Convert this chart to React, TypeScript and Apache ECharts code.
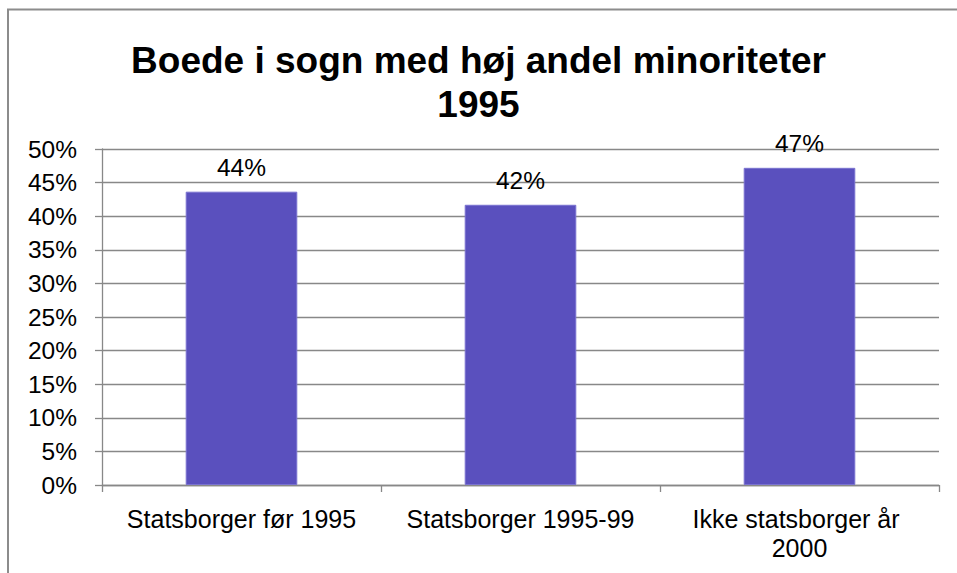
import React, { useEffect, useRef } from "react";
import * as echarts from "echarts";

const titleLines = ["Boede i sogn med høj andel minoriteter", "1995"];
const categories = ["Statsborger før 1995", "Statsborger 1995-99", "Ikke statsborger år 2000"];
const values = [43.65, 41.7, 47.2];
const yTicks = { min: 0, max: 50, interval: 5 };

export default function App() {
  const ref = useRef<HTMLDivElement>(null);
  useEffect(() => {
    const chart = echarts.init(ref.current!, null, { renderer: "svg" });
    const font = "Arial, 'Liberation Sans', sans-serif";
    chart.setOption({
      animation: false,
      backgroundColor: "#ffffff",
      title: {
        text: titleLines.join("\n"),
        left: "center",
        top: 33,
        textStyle: {
          fontFamily: font,
          fontWeight: "bold",
          fontSize: 37,
          lineHeight: 44,
          color: "#000",
        },
      },
      graphic: [
        {
          type: "rect",
          shape: { x: 8, y: 9.5, width: 980, height: 600 },
          style: { fill: "none", stroke: "#8c8c8c", lineWidth: 2 },
          silent: true,
          z: 100,
        },
      ],
      grid: { left: 102, right: 18, top: 149, bottom: 88 },
      xAxis: {
        type: "category",
        data: categories,
        axisLine: { lineStyle: { color: "#888", width: 1.3 } },
        axisTick: { show: true, length: 7, lineStyle: { color: "#888", width: 1.3 } },
        axisLabel: {
          fontFamily: font,
          fontSize: 25,
          color: "#000",
          margin: 19,
          lineHeight: 29,
          width: 240,
          overflow: "break",
          interval: 0,
        },
      },
      yAxis: {
        type: "value",
        min: yTicks.min,
        max: yTicks.max,
        interval: yTicks.interval,
        axisLine: { show: true, lineStyle: { color: "#888", width: 1.3 } },
        axisTick: { show: true, length: 7, lineStyle: { color: "#888", width: 1.3 } },
        splitLine: { lineStyle: { color: "#888", width: 1.3 } },
        axisLabel: {
          fontFamily: font,
          fontSize: 24.5,
          color: "#000",
          margin: 25,
          formatter: (v: number) => `${v}%`,
        },
      },
      series: [
        {
          type: "bar",
          data: values,
          barWidth: "40%",
          itemStyle: { color: "#5a50be", borderColor: "#7a72d0", borderWidth: 1 },
          label: {
            show: true,
            position: "top",
            distance: 12,
            fontFamily: font,
            fontSize: 24.5,
            color: "#000",
            formatter: (p: any) => `${Math.round(p.value)}%`,
          },
        },
      ],
    });
    return () => chart.dispose();
  }, []);
  return <div ref={ref} style={{ width: 957, height: 573, position: "absolute", left: 0, top: 0 }} />;
}
